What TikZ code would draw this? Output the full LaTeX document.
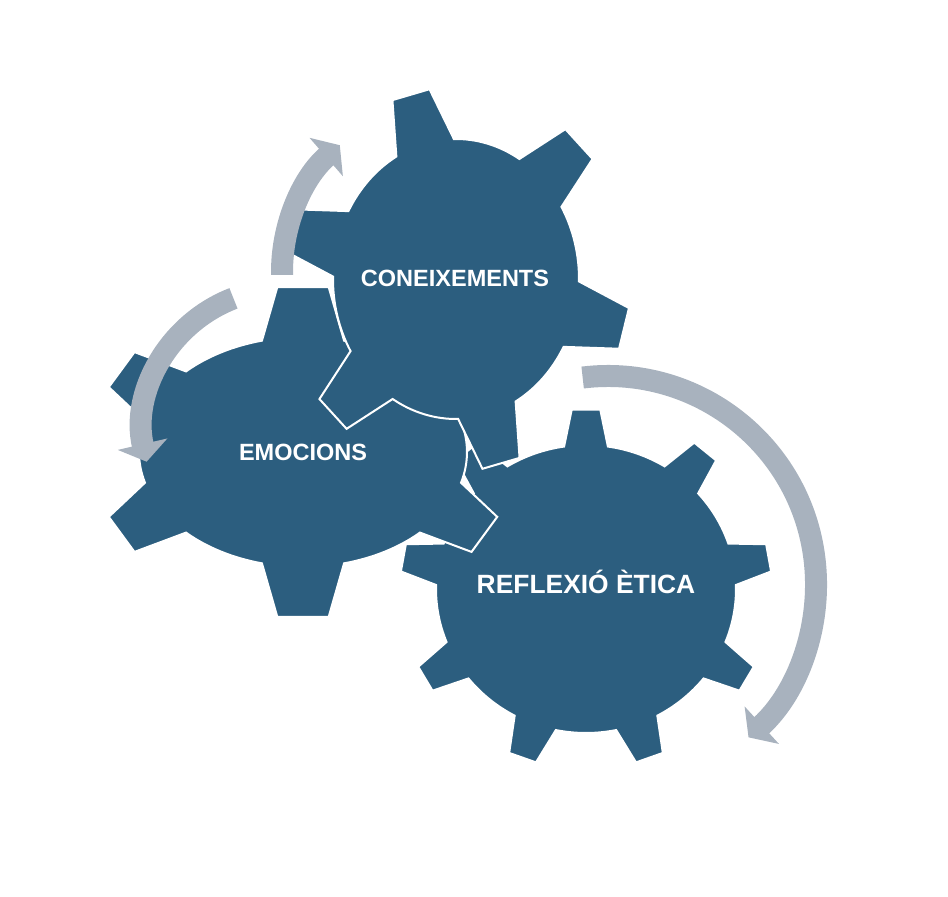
\documentclass[tikz,border=0pt]{standalone}
\usepackage{fontspec}
\setmainfont{Liberation Sans}
\usetikzlibrary{arrows.meta}
\definecolor{gearblue}{RGB}{44,94,127}
\definecolor{arrowgray}{RGB}{168,178,190}

% teeth, first tooth, body radii, tip radii, half base, half tip
\newcommand{\gearpath}[8]{%
  ({#2-#7}:#3 and #4)
  \foreach \k [evaluate=\k as \a using #2+(\k-1)*360/#1] in {1,...,#1}{
    -- ({\a-#7}:#3 and #4) -- ({\a-#8}:#5 and #6) -- ({\a+#8}:#5 and #6) -- ({\a+#7}:#3 and #4)
    arc[start angle=\a+#7, end angle=\a+360/#1-#7, x radius=#3, y radius=#4]
  } -- cycle}

\begin{document}
\begin{tikzpicture}[x=0.5pt,y=0.5pt,
  gear/.style={fill=gearblue,draw=white,line width=1pt},
  cyclearrow/.style={arrowgray,line width=11pt,-{Triangle[width=25pt,length=9pt]}},
  gname/.style={text=white,anchor=base,font=\bfseries\fontsize{11.75}{14}\selectfont}]
  \useasboundingbox (0,0) rectangle (948,896);
  \coordinate (refc) at (586,307); \coordinate (emoc) at (303,444); \coordinate (conc) at (456,617);
  \filldraw[gear,shift={(refc)}] \gearpath{9}{10}{150}{144}{186}{180}{8.4}{4.4};
  \filldraw[gear,shift={(emoc)}] \gearpath{6}{30}{164}{115}{211}{166}{14.5}{7};
  \filldraw[gear,shift={(conc)}] \gearpath{6}{-135}{123}{140}{175}{192}{14}{6.3};
  \coordinate (conturn) at (450,624); \coordinate (emoturn) at (284,466); \coordinate (refturn) at (608,312);
  \draw[cyclearrow] ([shift={(181:168)}]conturn) arc[start angle=181,end angle=131,radius=168];
  \draw[cyclearrow] ([shift={(111:141)}]emoturn) arc[start angle=111,end angle=193,radius=141];
  \draw[cyclearrow] ([shift={(97:208)}]refturn) arc[start angle=97,end angle=-47.5,radius=208];
  \node[gname] (con) at (455,609) {CONEIXEMENTS};
  \node[gname] (emo) at (303,436) {EMOCIONS};
  \node[gname,font=\bfseries\fontsize{13.2}{16}\selectfont] (ref) at (586,303) {REFLEXIÓ ÈTICA};
\end{tikzpicture}
\end{document}
